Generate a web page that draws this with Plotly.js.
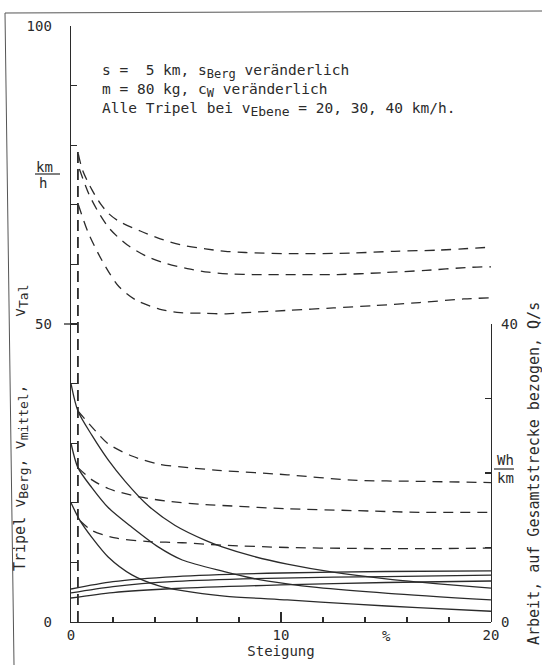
<!DOCTYPE html>
<html><head><meta charset="utf-8">
<script src="https://cdn.plot.ly/plotly-3.0.1.min.js"></script>
<style>html,body{margin:0;padding:0;background:#fff}</style>
</head><body><div id="chart" style="width:542px;height:665px"></div>
<script>
// Steigung in %, Geschwindigkeiten in km/h (linke Achse)
// v_Tal (gestrichelt, oben)
const talX1 = [0.35, 0.55, 1.0, 1.4, 1.8, 2.3, 3.3, 4.25, 5.2, 6.4, 7.35, 8.3, 10.45, 13.3, 15.4, 17.5, 20];
const talY1 = [78.5, 75.8, 72.5, 70.2, 68.5, 67.2, 65.6, 64.3, 63.3, 62.6, 62.2, 62.0, 61.8, 61.9, 62.2, 62.4, 62.9];
const talX2 = [0.4, 0.85, 1.3, 1.86, 2.67, 3.58, 4.58, 5.54, 6.54, 7.6, 8.64, 10.7, 12.7, 14.8, 16.9, 18.95, 20];
const talY2 = [76, 71.8, 68.8, 65.9, 63.3, 61.4, 60.1, 59.3, 58.7, 58.4, 58.3, 58.3, 58.3, 58.6, 59.0, 59.5, 59.6];
const talX3 = [0.35, 0.8, 1.3, 1.8, 2.3, 3.1, 4.2, 5.2, 6.3, 7.4, 8.3, 10.4, 12.5, 14.5, 16.6, 18.7, 20];
const talY3 = [70, 65.5, 61.8, 58.7, 56.2, 54.0, 52.5, 51.9, 51.8, 51.7, 51.9, 52.3, 52.7, 53.1, 53.6, 54.2, 54.4];

// v_Berg (durchgezogen)
const bergX1 = [0, 0.33, 1.0, 1.77, 2.58, 3.68, 4.96, 6.4, 7.2, 8.7, 10.3, 12.4, 15.1, 17.5, 20];
const bergY1 = [40, 35.4, 31.3, 27.2, 23.6, 19.5, 16.2, 13.7, 12.6, 11.0, 9.7, 8.4, 7.2, 6.4, 5.7];
const bergX2 = [0, 0.33, 1.0, 1.77, 2.9, 4.15, 5.3, 7.3, 8.7, 10.3, 11.7, 15.1, 20];
const bergY2 = [30, 25.9, 22.5, 19.2, 15.9, 12.6, 10.4, 8.45, 7.3, 6.4, 5.8, 4.8, 3.7];
const bergX3 = [0, 0.43, 1.0, 1.77, 2.9, 4.15, 5.3, 7.3, 10.3, 13.5, 16.5, 20];
const bergY3 = [20, 17.0, 14.15, 10.9, 7.9, 6.1, 5.25, 4.35, 3.7, 3.0, 2.4, 1.8];

// v_mittel (gestrichelt, unten)
const mitX1 = [0.33, 1.14, 1.77, 2.9, 4.15, 5.6, 7.0, 10.3, 13.4, 16.6, 20];
const mitY1 = [35.4, 32.15, 29.9, 27.85, 26.5, 25.9, 25.45, 24.7, 23.8, 23.6, 23.4];
const mitX2 = [0.33, 1.0, 1.77, 2.9, 4.5, 6.4, 7.2, 10.3, 13.4, 16.6, 20];
const mitY2 = [25.9, 23.85, 22.4, 21.25, 20.3, 19.7, 19.55, 19.0, 18.7, 18.4, 18.4];
const mitX3 = [0.43, 1.0, 2.1, 3.7, 5.3, 7.2, 10.3, 13.4, 16.6, 20];
const mitY3 = [17.0, 15.35, 14.1, 13.5, 13.3, 12.9, 12.5, 12.35, 12.3, 12.4];

// Arbeit (rechte Achse, Wh/km)
const arbX = [0, 2, 5, 10, 15, 20];
const arbY1 = [4.43, 5.42, 6.1, 6.58, 6.78, 6.85];
const arbY2 = [3.9, 4.75, 5.44, 5.9, 6.1, 6.3];
const arbY3 = [3.22, 3.95, 4.5, 4.97, 5.3, 5.5];

// senkrechte Strichlinie nahe Steigung 0
const grenzeX = [0.33, 0.33];
const grenzeY = [0, 79];

// Achsen
const xTickVals = [0, 10, 20];
const xTickText = ['0', '10', '20'];
const yTickVals = [0, 50, 100];
const yTickText = ['0', '50', '100'];
const y2TickVals = [0, 40];
const y2TickText = ['0', '40'];

const INK = '#2b2b2b';
const FONT = 'DejaVu Sans Mono, monospace';
const dashStyle = '10px,7px';

function line(x, y, dash, axis, w) {
  return {x: x, y: y, type: 'scatter', mode: 'lines', yaxis: axis || 'y',
    line: {color: INK, width: w || 1.3, dash: dash || 'solid', shape: 'spline', smoothing: 0.8},
    showlegend: false, hoverinfo: 'skip'};
}

const traces = [
  line(talX1, talY1, dashStyle), line(talX2, talY2, dashStyle), line(talX3, talY3, dashStyle),
  line(bergX1, bergY1), line(bergX2, bergY2), line(bergX3, bergY3),
  line(mitX1, mitY1, dashStyle), line(mitX2, mitY2, dashStyle), line(mitX3, mitY3, dashStyle),
  line(arbX, arbY1, 'solid', 'y2'), line(arbX, arbY2, 'solid', 'y2'), line(arbX, arbY3, 'solid', 'y2'),
  {x: grenzeX, y: grenzeY, type: 'scatter', mode: 'lines', line: {color: INK, width: 1.8, dash: '11px,6px'}, showlegend: false, hoverinfo: 'skip'}
];

const W = 420, H = 596, L = 71, T = 26;
const px = v => (v - L) / W;
const py = v => (T + H - v) / H;
const sub = (s, f) => '<sub><span style="font-size:' + (f || 12) + 'px">' + s + '</span></sub>';

const layout = {
  width: 542, height: 665,
  margin: {l: L, r: 542 - L - W, t: T, b: 665 - T - H},
  paper_bgcolor: '#fff', plot_bgcolor: 'rgba(0,0,0,0)',
  font: {family: FONT, size: 14, color: INK},
  showlegend: false,
  xaxis: {range: [0, 20], showline: true, linecolor: INK, linewidth: 1.3, mirror: false,
    ticks: 'inside', ticklen: 10, tickcolor: INK, tickwidth: 1.3,
    tickvals: xTickVals, ticktext: xTickText, tickfont: {family: FONT, size: 14, color: INK},
    minor: {dtick: 2, ticks: 'inside', ticklen: 5, tickcolor: INK, tickwidth: 1.2},
    showgrid: false, zeroline: false,
    title: {text: 'Steigung', font: {family: FONT, size: 14, color: INK}, standoff: 3}},
  yaxis: {range: [0, 100], showline: true, linecolor: INK, linewidth: 1.3,
    ticks: 'inside', ticklen: 6, tickcolor: INK, tickwidth: 1.3, ticklabelstandoff: 15,
    tickvals: yTickVals, ticktext: yTickText, tickfont: {family: FONT, size: 14, color: INK},
    minor: {dtick: 10, ticks: 'inside', ticklen: 6, tickcolor: INK, tickwidth: 1.3},
    showgrid: false, zeroline: false},
  yaxis2: {domain: [0, 0.5], range: [0, 40], anchor: 'x', side: 'right', showline: true,
    linecolor: INK, linewidth: 1.3, ticks: 'inside', ticklen: 6, tickcolor: INK, tickwidth: 1.3,
    tickvals: y2TickVals, ticktext: y2TickText, tickfont: {family: FONT, size: 14, color: INK},
    minor: {dtick: 10, ticks: 'inside', ticklen: 6, tickcolor: INK, tickwidth: 1.3},
    ticklabelstandoff: 6, showgrid: false, zeroline: false},
  annotations: [
    {xref: 'paper', yref: 'paper', x: px(100), y: py(71), xanchor: 'left', yanchor: 'middle', showarrow: false,
      font: {size: 14.5}, text: 's =  5 km, s' + sub('Berg') + ' veränderlich'},
    {xref: 'paper', yref: 'paper', x: px(100), y: py(91), xanchor: 'left', yanchor: 'middle', showarrow: false,
      font: {size: 14.5}, text: 'm = 80 kg, c' + sub('W') + ' veränderlich'},
    {xref: 'paper', yref: 'paper', x: px(100), y: py(109), xanchor: 'left', yanchor: 'middle', showarrow: false,
      font: {size: 14.5}, text: 'Alle Tripel bei v' + sub('Ebene', 13) + ' = 20, 30, 40 km/h.'},
    {xref: 'paper', yref: 'paper', x: px(21), y: py(478), xanchor: 'center', yanchor: 'middle', showarrow: false,
      textangle: -90, font: {size: 15}, text: 'Tripel v' + sub('Berg', 13) + ', v' + sub('mittel', 13) + ','},
    {xref: 'paper', yref: 'paper', x: px(21), y: py(301), xanchor: 'center', yanchor: 'middle', showarrow: false,
      textangle: -90, font: {size: 15}, text: 'v' + sub('Tal', 13)},
    {xref: 'paper', yref: 'paper', x: px(534), y: py(474), xanchor: 'center', yanchor: 'middle', showarrow: false,
      textangle: -90, font: {size: 15}, text: 'Arbeit, auf Gesamtstrecke bezogen, Q/s'},
    {xref: 'x', yref: 'paper', x: 15, y: py(636), xanchor: 'center', yanchor: 'middle', showarrow: false, text: '%'},
    {xref: 'paper', yref: 'paper', x: px(44), y: py(167), xanchor: 'center', yanchor: 'middle', showarrow: false, text: 'km'},
    {xref: 'paper', yref: 'paper', x: px(43), y: py(183), xanchor: 'center', yanchor: 'middle', showarrow: false, text: 'h'},
    {xref: 'paper', yref: 'paper', x: px(505), y: py(460), xanchor: 'center', yanchor: 'middle', showarrow: false, text: 'Wh'},
    {xref: 'paper', yref: 'paper', x: px(505), y: py(478), xanchor: 'center', yanchor: 'middle', showarrow: false, text: 'km'}
  ],
  shapes: [
    {type: 'line', xref: 'paper', yref: 'paper', x0: px(35), x1: px(60), y0: py(174), y1: py(174), line: {color: INK, width: 1.2}},
    {type: 'line', xref: 'paper', yref: 'paper', x0: px(494), x1: px(514), y0: py(469), y1: py(469), line: {color: INK, width: 1.2}},
    {type: 'line', xref: 'paper', yref: 'paper', x0: px(64), x1: px(71), y0: 0.5, y1: 0.5, line: {color: INK, width: 1.3}},
    {type: 'line', xref: 'paper', yref: 'paper', x0: px(5), x1: px(542), y0: py(13), y1: py(11), line: {color: '#555', width: 1}},
    {type: 'line', xref: 'paper', yref: 'paper', x0: px(5), x1: px(14), y0: py(13), y1: py(665), line: {color: '#555', width: 1}}
  ]
};

Plotly.newPlot('chart', traces, layout, {staticPlot: true, displayModeBar: false});
</script>
</body></html>
